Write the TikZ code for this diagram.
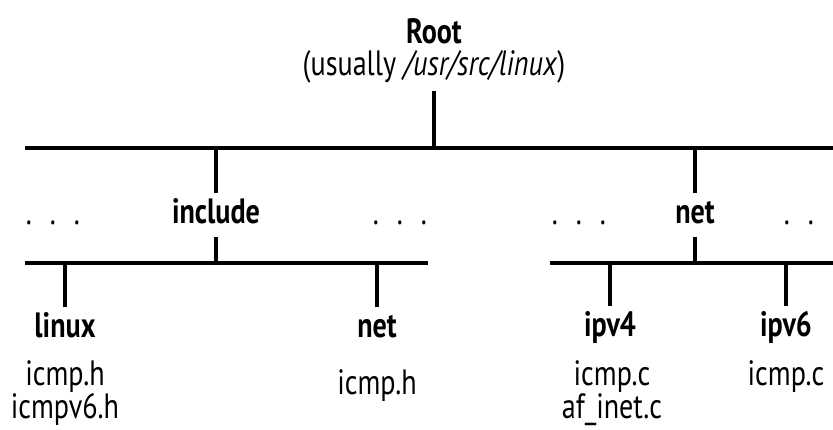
\documentclass[tikz,border=0pt]{standalone}
\usepackage{fontspec}
\setmainfont[FakeStretch=0.8]{PT Sans}
\usepackage{tikz}
\usetikzlibrary{positioning}

\begin{document}
\begin{tikzpicture}[
    x=0.025cm, y=-0.025cm,
    every node/.style={align=center, inner sep=0pt},
    dir/.style={font=\fontsize{25}{23}\selectfont\bfseries, inner ysep=3pt, text height=18pt, text depth=7pt},
    files/.style={font=\fontsize{25}{22}\selectfont},
    dots/.style={font=\fontsize{25}{23}\selectfont},
    branch/.style={line width=2.6pt}
]
    \useasboundingbox (0,0) rectangle (833,429);
    \clip (0,0) rectangle (833,429);

    % Root of the tree
    \node[font=\fontsize{25}{23}\selectfont, inner ysep=5pt, anchor=north] (root) at (434,11) {
        \textbf{Root}\\
        (usually \textit{/usr/src/linux})
    };

    % Top bar
    \coordinate (topL) at (25,148);
    \coordinate (topR) at (833,148);
    \draw[branch] (topL) -- (topR);
    \draw[branch] (root.south) -- (root.south |- topL);

    % Second level
    \node[dir, anchor=base] (include) at (216,223) {include};
    \node[dir, anchor=base] (net) at (695,223) {net};
    \draw[branch] (include.north) -- (include.north |- topL);
    \draw[branch] (net.north) -- (net.north |- topL);

    % Elided siblings
    \node[dots, anchor=base] (dotsA) at (53,224) {.\hspace{12.8pt}.\hspace{12.8pt}.};
    \node[dots, anchor=base] (dotsB) at (400,224) {.\hspace{12.8pt}.\hspace{12.8pt}.};
    \node[dots, anchor=base] (dotsC) at (579,224) {.\hspace{12.8pt}.\hspace{12.8pt}.};
    \node[dots, anchor=base] (dotsD) at (799,224) {.\hspace{12.8pt}.};

    % Below include
    \coordinate (incL) at (25,263);
    \coordinate (incR) at (428,263);
    \draw[branch] (incL) -- (incR);
    \draw[branch] (include.south) -- (include.south |- incL);

    \node[dir, anchor=base] (linux) at (65,337) {linux};
    \node[dir, anchor=base] (incnet) at (377,337) {net};
    \draw[branch] (linux.north) -- (linux.north |- incL);
    \draw[branch] (incnet.north) -- (incnet.north |- incL);

    \node[files, anchor=north] (linuxfiles) at (65,360) {icmp.h\\icmpv6.h};
    \node[files, anchor=north] (incnetfiles) at (377,369) {icmp.h};

    % Below net
    \coordinate (netL) at (550,263);
    \coordinate (netR) at (833,263);
    \draw[branch] (netL) -- (netR);
    \draw[branch] (net.south) -- (net.south |- netL);

    \node[dir, anchor=base] (ipvfour) at (610,336) {ipv4};
    \node[dir, anchor=base] (ipvsix) at (786,336) {ipv6};
    \draw[branch] (ipvfour.north) -- (ipvfour.north |- netL);
    \draw[branch] (ipvsix.north) -- (ipvsix.north |- netL);

    \node[files, anchor=north] (ipvfourfiles) at (612,360) {icmp.c\\af\_inet.c};
    \node[files, anchor=north] (ipvsixfiles) at (786,360) {icmp.c};
\end{tikzpicture}
\end{document}
